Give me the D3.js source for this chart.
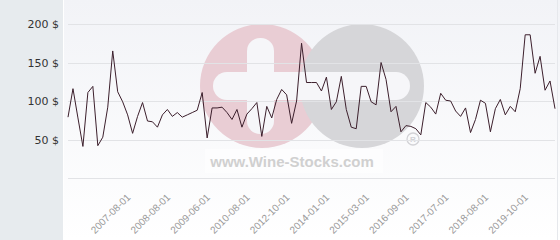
<!DOCTYPE html>
<html>
<head>
<meta charset="utf-8">
<script src="https://d3js.org/d3.v7.min.js"></script>
<style>
  body { margin: 0; background: #fff; }
  svg { display: block; }
</style>
</head>
<body>
<svg id="chart" width="560" height="240"></svg>
<script>
// price per bottle, one value per auction (category axis)
var prices = [
  79, 116, 78, 41, 111, 119, 42, 53, 92, 165,
  112, 99, 82, 58, 80, 98, 74, 73, 66, 82,
  89, 80, 85, 79, 82, 85, 88, 111, 52, 91,
  91, 92, 85, 76, 89, 66, 83, 90, 98, 54,
  93, 78, 102, 115, 108, 71, 100, 175, 124, 124,
  124, 113, 131, 89, 99, 132, 89, 66, 64, 119,
  119, 99, 95, 150, 128, 86, 93, 60, 68, 67,
  64, 56, 98, 92, 83, 110, 101, 100, 87, 80,
  91, 59, 76, 101, 97, 60, 90, 102, 82, 93,
  86, 116, 186, 186, 136, 158, 114, 126, 90
];
// labelled categories
var tickIdx = [12, 20, 28, 36, 44, 52, 60, 68, 76, 84, 92];
var tickLabels = [
  "2007-08-01", "2008-08-01", "2009-06-01", "2010-08-01", "2012-10-01",
  "2014-01-01", "2015-03-01", "2016-09-01", "2017-07-01", "2018-08-01",
  "2019-10-01"
];
var yTicks = [50, 100, 150, 200];
var gridTicks = [0, 50, 100, 150, 200];

var svg = d3.select("#chart");
var W = 560, H = 240;
var plotLeft = 63;

// background gradient for plot area
var defs = svg.append("defs");
var grad = defs.append("linearGradient")
  .attr("id", "bg").attr("x1", 0).attr("y1", 0).attr("x2", 0).attr("y2", 1);
grad.append("stop").attr("offset", "0%").attr("stop-color", "#f2f3f7");
grad.append("stop").attr("offset", "100%").attr("stop-color", "#ffffff");

svg.append("rect").attr("x", 0).attr("y", 0).attr("width", plotLeft).attr("height", H)
  .attr("fill", "#e7ebee");
svg.append("rect").attr("x", plotLeft).attr("y", 0).attr("width", W - plotLeft).attr("height", H)
  .attr("fill", "url(#bg)");
svg.append("line").attr("x1", plotLeft + 0.5).attr("x2", plotLeft + 0.5)
  .attr("y1", 0).attr("y2", H).attr("stroke", "#ffffff");
svg.append("line").attr("x1", 557.5).attr("x2", 557.5)
  .attr("y1", 0).attr("y2", H).attr("stroke", "#e6e8ec");

var x = d3.scalePoint()
  .domain(d3.range(prices.length))
  .range([68, 555]);

var y = d3.scaleLinear()
  .domain([0, 200])
  .range([178, 24]);

// watermark
var wm = svg.append("g");
wm.append("circle").attr("cx", 262).attr("cy", 86).attr("r", 62).attr("fill", "#e9cdd4");
wm.append("circle").attr("cx", 362).attr("cy", 86).attr("r", 62).attr("fill", "#d6d6d9");
wm.append("rect").attr("x", 213).attr("y", 72).attr("width", 197).attr("height", 28)
  .attr("rx", 14).attr("fill", "#f6f6f9");
wm.append("rect").attr("x", 247).attr("y", 38).attr("width", 27).attr("height", 96)
  .attr("rx", 13).attr("fill", "#f6f6f9");
wm.append("circle").attr("cx", 413).attr("cy", 139).attr("r", 6)
  .attr("fill", "none").attr("stroke", "#d2d2d6").attr("stroke-width", 1.3);
wm.append("text").attr("x", 413).attr("y", 142).attr("text-anchor", "middle")
  .attr("font-family", "Liberation Sans, Arial, sans-serif").attr("font-size", 8)
  .attr("font-weight", "bold").attr("fill", "#d2d2d6").text("R");
wm.append("rect").attr("x", 205).attr("y", 149).attr("width", 178).attr("height", 24)
  .attr("fill", "#ffffff").attr("opacity", 0.6);
wm.append("text").attr("x", 292).attr("y", 167).attr("text-anchor", "middle")
  .attr("font-family", "Liberation Sans, Arial, sans-serif").attr("font-size", 15)
  .attr("font-weight", "bold").attr("fill", "#d0d0d0").text("www.Wine-Stocks.com");

// grid lines
svg.append("g").selectAll("line")
  .data(gridTicks)
  .enter()
  .append("line")
  .attr("x1", 68).attr("x2", 555)
  .attr("y1", function (d) { return Math.round(y(d)) + 0.5; })
  .attr("y2", function (d) { return Math.round(y(d)) + 0.5; })
  .attr("stroke", "#e2e3e6");

// y axis labels
var yAxis = svg.append("g")
  .attr("transform", "translate(" + plotLeft + ",0)")
  .call(d3.axisLeft(y).tickValues(yTicks).tickSize(0).tickPadding(4)
    .tickFormat(function (d) { return d + " $"; }));
yAxis.select(".domain").remove();
yAxis.selectAll("text")
  .attr("font-family", "DejaVu Sans, sans-serif")
  .attr("font-size", 11)
  .attr("fill", "#333");

// x axis labels
var xAxis = svg.append("g")
  .attr("transform", "translate(0,178)")
  .call(d3.axisBottom(x).tickValues(tickIdx).tickSize(0)
    .tickFormat(function (d, i) { return tickLabels[i]; }));
xAxis.select(".domain").remove();
xAxis.selectAll("text")
  .attr("font-family", "Liberation Sans, Arial, sans-serif")
  .attr("font-size", 10)
  .attr("fill", "#999")
  .attr("text-anchor", "end")
  .attr("dy", null)
  .attr("y", 0)
  .attr("transform", "translate(3,20) rotate(-45)");

// price line
var line = d3.line()
  .x(function (d, i) { return x(i); })
  .y(function (d) { return y(d); });

svg.append("path")
  .datum(prices)
  .attr("d", line)
  .attr("fill", "none")
  .attr("stroke", "#3c1f2c")
  .attr("stroke-width", 1);
</script>
</body>
</html>
